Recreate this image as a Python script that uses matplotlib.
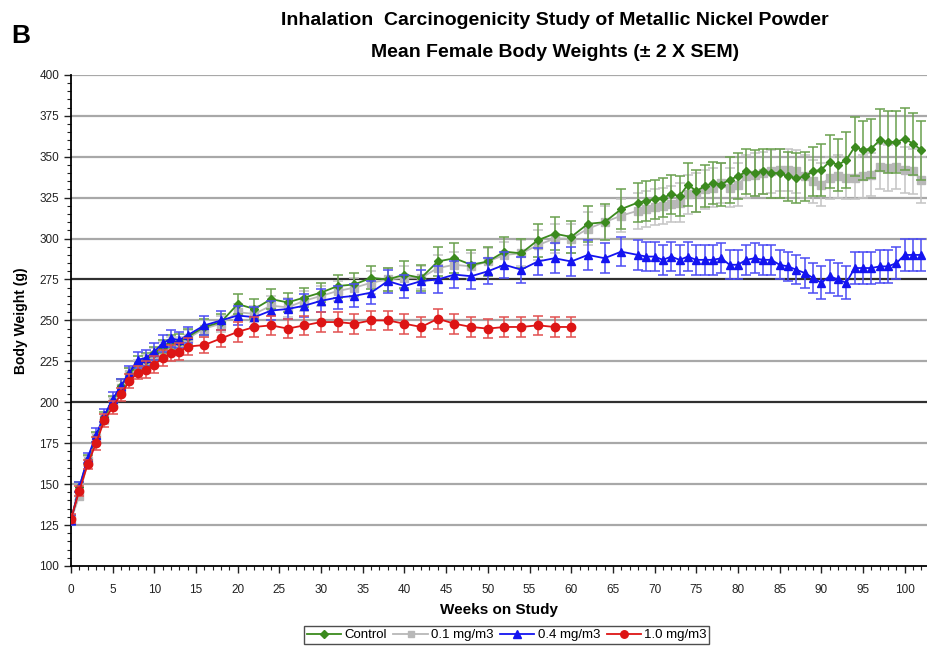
import matplotlib.pyplot as plt
from matplotlib.lines import Line2D
from matplotlib.ticker import MultipleLocator

# weeks on study (weekly to 14, every 2 weeks to 68, then weekly)
weeks = list(range(0, 15)) + list(range(16, 69, 2)) + list(range(69, 103))
weeks_high = weeks[:38]   # 1.0 mg/m3 group ends at week 60

control = [128, 148, 165, 179, 191, 201, 210, 217, 224, 226, 230, 234, 237, 237, 240,
           246, 249, 260, 257, 263, 261, 264, 267, 271, 272, 276, 275, 278, 276, 286,
           288, 284, 286, 292, 291, 299, 303, 301, 309, 310, 318, 322,
           323, 324, 325, 327, 326, 333, 329, 332, 334, 333, 336, 338, 341, 340, 341,
           340, 340, 338, 337, 338, 341, 342, 347, 345, 348, 356, 354, 355, 360, 359,
           359, 361, 358, 354]
control_err = [3, 3, 3, 3, 3, 3, 4, 4, 4, 4, 4, 4, 4, 5, 5,
               5, 5, 6, 6, 6, 6, 6, 6, 7, 7, 7, 7, 8, 8, 9,
               9, 9, 9, 9, 9, 10, 10, 10, 11, 11, 12, 12,
               12, 12, 12, 12, 12, 13, 13, 13, 13, 13, 14, 14, 14, 14, 14,
               15, 15, 15, 15, 15, 15, 16, 16, 16, 17, 18, 18, 18, 19, 19,
               19, 19, 19, 18]

low = [128, 143, 164, 178, 190, 200, 209, 217, 222, 225, 229, 233, 236, 236, 239,
       245, 248, 255, 254, 259, 258, 262, 265, 268, 270, 273, 275, 276, 276, 282,
       284, 283, 286, 290, 291, 296, 300, 300, 306, 310, 314, 317,
       318, 319, 320, 321, 322, 327, 328, 330, 331, 334, 331, 333, 338, 339, 340,
       341, 342, 342, 341, 338, 335, 333, 337, 338, 337, 337, 338, 339, 344, 343,
       344, 342, 341, 336]
low_err = [3, 3, 3, 3, 3, 3, 4, 4, 4, 4, 4, 4, 4, 4, 5,
           5, 5, 5, 5, 6, 6, 6, 6, 6, 6, 7, 7, 7, 7, 8,
           8, 8, 8, 8, 8, 9, 9, 9, 10, 10, 10, 11,
           11, 11, 11, 11, 12, 12, 12, 12, 12, 12, 12, 13, 13, 13, 13,
           13, 13, 13, 13, 13, 13, 13, 13, 13, 13, 13, 13, 13, 14, 14,
           14, 14, 14, 14]

mid = [128, 148, 166, 180, 192, 202, 210, 218, 226, 227, 231, 236, 239, 238, 241,
       247, 250, 253, 252, 256, 257, 259, 262, 264, 265, 267, 274, 271, 274, 275,
       278, 277, 280, 284, 281, 286, 288, 286, 290, 288, 292, 290,
       289, 289, 287, 289, 287, 289, 287, 287, 287, 288, 284, 284, 287, 288, 287,
       287, 284, 283, 281, 279, 276, 273, 277, 275, 273, 282, 282, 282, 283, 283,
       285, 290, 290, 290]
mid_err = [3, 3, 3, 4, 4, 4, 4, 4, 5, 5, 5, 5, 5, 5, 5,
           6, 6, 6, 6, 6, 6, 7, 7, 7, 7, 7, 7, 7, 7, 8,
           8, 8, 8, 8, 8, 8, 9, 9, 9, 9, 9, 9,
           9, 9, 9, 9, 9, 9, 9, 9, 9, 9, 9, 9, 9, 9, 9,
           9, 9, 9, 9, 9, 9, 10, 10, 10, 10, 10, 10, 10, 10, 10,
           10, 10, 10, 10]

high = [129, 146, 162, 175, 189, 197, 205, 213, 218, 220, 223, 227, 230, 231, 234,
        235, 239, 243, 246, 247, 245, 247, 249, 249, 248, 250, 250, 248, 246, 251,
        248, 246, 245, 246, 246, 247, 246, 246]
high_err = [3, 3, 3, 4, 4, 4, 4, 4, 4, 5, 5, 5, 5, 5, 5,
            5, 5, 6, 6, 6, 6, 6, 6, 6, 6, 6, 6, 6, 6, 6,
            6, 6, 6, 6, 6, 6, 6, 6]

# label, x, y, error, line colour, error-bar colour, marker, size, z-order
series = [
    ('Control', weeks, control, control_err, '#3b8a1e', '#6aa04e', 'D', 4, 3),
    ('0.1 mg/m3', weeks, low, low_err, '#b8b8b8', '#c4c4c4', 's', 5.5, 2),
    ('0.4 mg/m3', weeks, mid, mid_err, '#1414f0', '#4c4cf4', '^', 6, 4),
    ('1.0 mg/m3', weeks_high, high, high_err, '#dd1515', '#e25050', 'o', 6, 5),
]

plt.rcParams['font.family'] = ['Liberation Sans', 'DejaVu Sans']

fig = plt.figure(figsize=(9.28, 6.51), dpi=100)
ax = fig.add_axes([0.0765, 0.1306, 0.9235, 0.7544])

handles = []
for label, x, y, err, color, ecolor, marker, ms, z in series:
    ax.errorbar(x, y, yerr=err, color=color, ecolor=ecolor, elinewidth=1.1,
                capsize=3.5, capthick=1.1, marker=marker, markersize=ms,
                linewidth=1.3, zorder=z)
    handles.append(Line2D([], [], color=color, marker=marker, markersize=ms * 0.9,
                          linewidth=1.3, label=label))

# horizontal gridlines; 200 and 275 drawn darker
for v in range(125, 401, 25):
    c = '#303030' if v in (200, 275) else '#a8a8a8'
    ax.axhline(v, color=c, linewidth=1.6, zorder=1)

ax.set_xlim(0, 102.8)
ax.set_ylim(100, 400)
ax.xaxis.set_major_locator(MultipleLocator(5))
ax.xaxis.set_minor_locator(MultipleLocator(1))
ax.yaxis.set_major_locator(MultipleLocator(25))
ax.yaxis.set_minor_locator(MultipleLocator(5))
ax.set_xticks(range(0, 101, 5))
ax.tick_params(which='major', length=5, width=1, labelsize=8.5, colors='#222222')
ax.tick_params(axis='x', which='major', pad=8)
ax.tick_params(which='minor', length=3, width=0.8, colors='#222222')
for s in ('top', 'right'):
    ax.spines[s].set_visible(False)
for s in ('left', 'bottom'):
    ax.spines[s].set_linewidth(1.3)

ax.set_xlabel('Weeks on Study', fontsize=11, fontweight='bold', labelpad=5)
ax.set_ylabel('Body Weight (g)', fontsize=10, fontweight='bold', labelpad=8)

fig.text(0.598, 0.968, 'Inhalation  Carcinogenicity Study of Metallic Nickel Powder',
         ha='center', va='center', fontsize=14, fontweight='bold')
fig.text(0.598, 0.919, 'Mean Female Body Weights (\u00b1 2 X SEM)',
         ha='center', va='center', fontsize=14, fontweight='bold')
fig.text(0.012, 0.945, 'B', ha='left', va='center', fontsize=19, fontweight='bold')

leg = fig.legend(handles=handles, loc='center', bbox_to_anchor=(0.546, 0.0245),
                 ncol=4, fontsize=9.5, frameon=True, fancybox=False, edgecolor='#222222',
                 handlelength=2.6, handletextpad=0.25, columnspacing=0.5,
                 borderpad=0.2, borderaxespad=0)
leg.get_frame().set_linewidth(1.0)

fig.savefig('out.png', dpi=100)
